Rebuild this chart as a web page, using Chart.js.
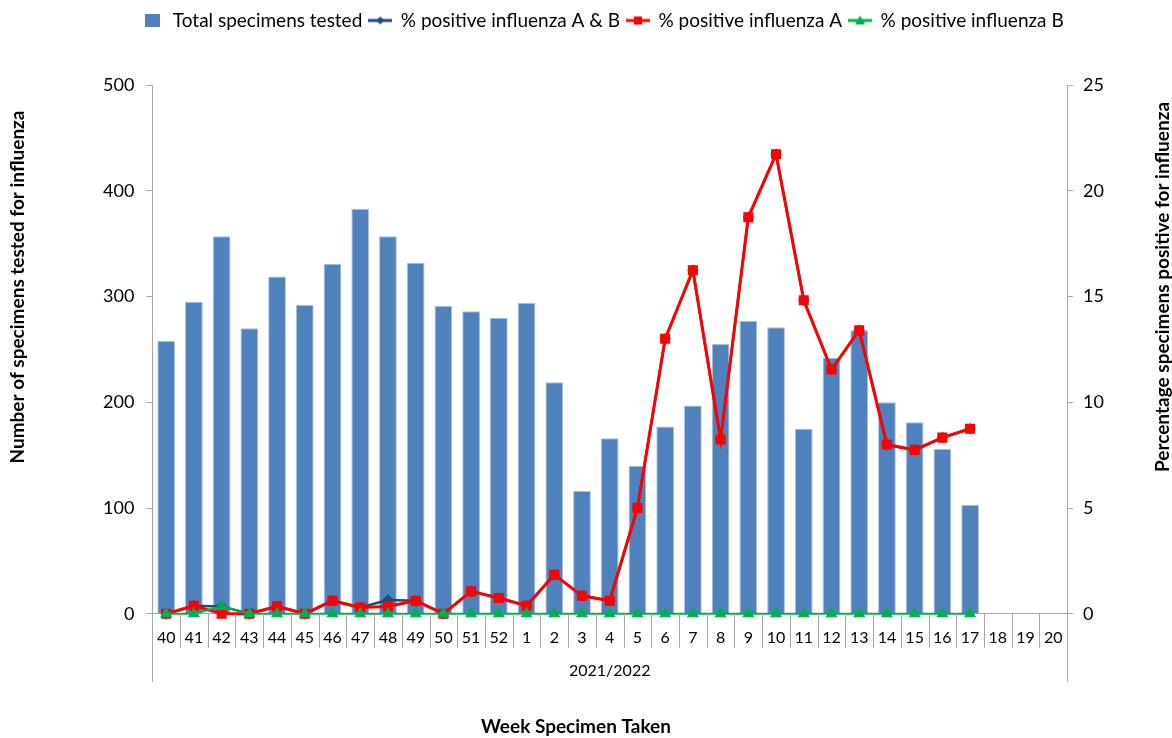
<!DOCTYPE html>
<html>
<head>
<meta charset="utf-8">
<script src="https://cdn.jsdelivr.net/npm/chart.js@4.4.1/dist/chart.umd.min.js"></script>
<style>
  html, body { margin: 0; padding: 0; background: #ffffff; }
  #wrap { width: 1172px; height: 738px; position: relative; }
</style>
</head>
<body>
<div id="wrap"><canvas id="c" width="1172" height="738"></canvas></div>
<script>
const weeks = ['40','41','42','43','44','45','46','47','48','49','50','51','52',
  '1','2','3','4','5','6','7','8','9','10','11','12','13','14','15','16','17','18','19','20'];

const totalTested = [258, 295, 357, 270, 319, 292, 331, 383, 357, 332, 291, 286, 280,
  294, 219, 116, 166, 140, 177, 197, 255, 277, 271, 175, 242, 268, 200, 181, 156, 103, null, null, null];

const pctAB = [0, 0.38, 0.35, 0, 0.35, 0, 0.62, 0.3, 0.65, 0.62, 0, 1.06, 0.75,
  0.38, 1.85, 0.85, 0.62, 5.0, 13.0, 16.24, 8.24, 18.75, 21.73, 14.82, 11.55, 13.4, 8.0, 7.75, 8.33, 8.75, null, null, null];

const pctA = [0, 0.38, 0, 0, 0.35, 0, 0.62, 0.3, 0.35, 0.62, 0, 1.06, 0.75,
  0.38, 1.85, 0.85, 0.62, 5.0, 13.0, 16.24, 8.24, 18.75, 21.73, 14.82, 11.55, 13.4, 8.0, 7.75, 8.33, 8.75, null, null, null];

const pctB = [0, 0, 0.35, 0, 0, 0, 0, 0, 0, 0, 0, 0, 0,
  0, 0, 0, 0, 0, 0, 0, 0, 0, 0, 0, 0, 0, 0, 0, 0, 0, null, null, null];

const seasonLabel = '2021/2022';
const xTitle = 'Week Specimen Taken';
const yLeftTitle = 'Number of specimens tested for influenza';
const yRightTitle = 'Percentage specimens positive for influenza';

const FONT = 'Lato, "Open Sans", sans-serif';
const AXIS_GRAY = '#A6A6A6';

function legendIcon(color, shape, size) {
  const cv = document.createElement('canvas');
  cv.width = 24; cv.height = 14;
  const g = cv.getContext('2d');
  g.strokeStyle = color; g.fillStyle = color; g.lineWidth = 3;
  g.beginPath(); g.moveTo(0, 7); g.lineTo(24, 7); g.stroke();
  g.beginPath();
  if (shape === 'diamond') {
    g.moveTo(12, 7 - size); g.lineTo(12 + size, 7); g.lineTo(12, 7 + size); g.lineTo(12 - size, 7);
  } else if (shape === 'square') {
    g.rect(12 - size, 7 - size, size * 2, size * 2);
  } else if (shape === 'triangle') {
    g.moveTo(12, 7 - size); g.lineTo(12 + size, 7 + size * 0.8); g.lineTo(12 - size, 7 + size * 0.8);
  }
  g.closePath(); g.fill();
  return cv;
}
function barIcon(color) {
  const cv = document.createElement('canvas');
  cv.width = 15; cv.height = 13;
  const g = cv.getContext('2d');
  g.fillStyle = color; g.fillRect(0, 0, 15, 13);
  return cv;
}

const extras = {
  id: 'extras',
  beforeInit(chart) {
    const fit = chart.legend.fit;
    chart.legend.fit = function () {
      fit.bind(chart.legend)();
      this.height += 45;
    };
  },
  afterDraw(chart) {
    const ctx = chart.ctx;
    const a = chart.chartArea;
    const xs = chart.scales.x;
    const n = chart.data.labels.length;
    const half = (xs.getPixelForTick(1) - xs.getPixelForTick(0)) / 2;
    ctx.save();
    ctx.strokeStyle = AXIS_GRAY;
    ctx.lineWidth = 1;
    ctx.beginPath();
    for (let i = 1; i < n; i++) {
      const x = Math.round(xs.getPixelForTick(i) - half) + 0.5;
      ctx.moveTo(x, a.bottom);
      ctx.lineTo(x, a.bottom + 34);
    }
    ctx.moveTo(Math.round(a.left) + 0.5, a.bottom);
    ctx.lineTo(Math.round(a.left) + 0.5, a.bottom + 68);
    ctx.moveTo(Math.round(a.right) + 0.5, a.bottom);
    ctx.lineTo(Math.round(a.right) + 0.5, a.bottom + 68);
    ctx.stroke();

    ctx.fillStyle = '#000';
    ctx.textAlign = 'center';
    ctx.textBaseline = 'middle';
    ctx.font = '16px ' + FONT;
    ctx.fillText(seasonLabel, (a.left + a.right) / 2, a.bottom + 57);

    ctx.font = 'bold 19px ' + FONT;
    ctx.fillText(xTitle, 576, 727);

    ctx.save();
    ctx.translate(18, 287);
    ctx.rotate(-Math.PI / 2);
    ctx.fillText(yLeftTitle, 0, 0);
    ctx.restore();

    ctx.save();
    ctx.translate(1163, 287);
    ctx.rotate(-Math.PI / 2);
    ctx.fillText(yRightTitle, 0, 0);
    ctx.restore();

    ctx.restore();
  }
};

const ctx = document.getElementById('c').getContext('2d');
new Chart(ctx, {
  type: 'bar',
  data: {
    labels: weeks,
    datasets: [
      {
        type: 'bar', label: 'Total specimens tested', data: totalTested, yAxisID: 'y',
        backgroundColor: '#4F81BD', borderColor: '#A7BFDE', borderWidth: 1,
        barPercentage: 0.64, categoryPercentage: 1.0, order: 4
      },
      {
        type: 'line', label: '% positive influenza A & B', data: pctAB, yAxisID: 'y1',
        borderColor: '#1F497D', backgroundColor: '#1F497D', borderWidth: 2.5,
        pointStyle: 'rectRot', pointRadius: 4, pointHoverRadius: 4, tension: 0, clip: false, order: 3
      },
      {
        type: 'line', label: '% positive influenza A', data: pctA, yAxisID: 'y1',
        borderColor: '#FF0000', backgroundColor: '#FF0000', borderWidth: 3,
        pointStyle: 'rect', pointRadius: 5, pointHoverRadius: 5, tension: 0, clip: false, order: 2
      },
      {
        type: 'line', label: '% positive influenza B', data: pctB, yAxisID: 'y1',
        borderColor: '#00B050', backgroundColor: '#00B050', borderWidth: 2,
        pointStyle: 'triangle', pointRadius: 5, pointHoverRadius: 5, tension: 0, clip: false, order: 1
      }
    ]
  },
  options: {
    responsive: false,
    animation: false,
    maintainAspectRatio: false,
    layout: { padding: { left: 91, right: 58, top: 4, bottom: 77 } },
    plugins: {
      tooltip: { enabled: false },
      title: { display: false },
      legend: {
        position: 'top',
        labels: {
          usePointStyle: true,
          pointStyleWidth: 22,
          padding: 7,
          color: '#000',
          font: { family: FONT, size: 19 },
          sort: (a, b) => a.datasetIndex - b.datasetIndex,
          generateLabels(chart) {
            const icons = [
              barIcon('#4F81BD'),
              legendIcon('#1F497D', 'diamond', 4),
              legendIcon('#FF0000', 'square', 4),
              legendIcon('#00B050', 'triangle', 5)
            ];
            return chart.data.datasets.map((ds, i) => ({
              text: ds.label, datasetIndex: i, pointStyle: icons[i],
              fillStyle: ds.backgroundColor, strokeStyle: ds.borderColor,
              lineWidth: 0, hidden: false, fontColor: '#000'
            }));
          }
        }
      }
    },
    scales: {
      x: {
        offset: true,
        grid: { display: true, offset: true, drawOnChartArea: false, drawTicks: false, color: AXIS_GRAY },
        border: { display: true, color: AXIS_GRAY },
        ticks: { color: '#000', font: { family: FONT, size: 16 }, padding: 14, maxRotation: 0, autoSkip: false }
      },
      y: {
        position: 'left', min: 0, max: 500,
        ticks: { stepSize: 100, color: '#000', font: { family: FONT, size: 18 }, padding: 12 },
        grid: { drawOnChartArea: false, drawTicks: true, tickLength: 6, color: AXIS_GRAY },
        border: { display: true, color: AXIS_GRAY }
      },
      y1: {
        position: 'right', min: 0, max: 25,
        ticks: { stepSize: 5, color: '#000', font: { family: FONT, size: 18 }, padding: 10 },
        grid: { drawOnChartArea: false, drawTicks: true, tickLength: 6, color: AXIS_GRAY },
        border: { display: true, color: AXIS_GRAY }
      }
    }
  },
  plugins: [extras]
});
</script>
</body>
</html>
